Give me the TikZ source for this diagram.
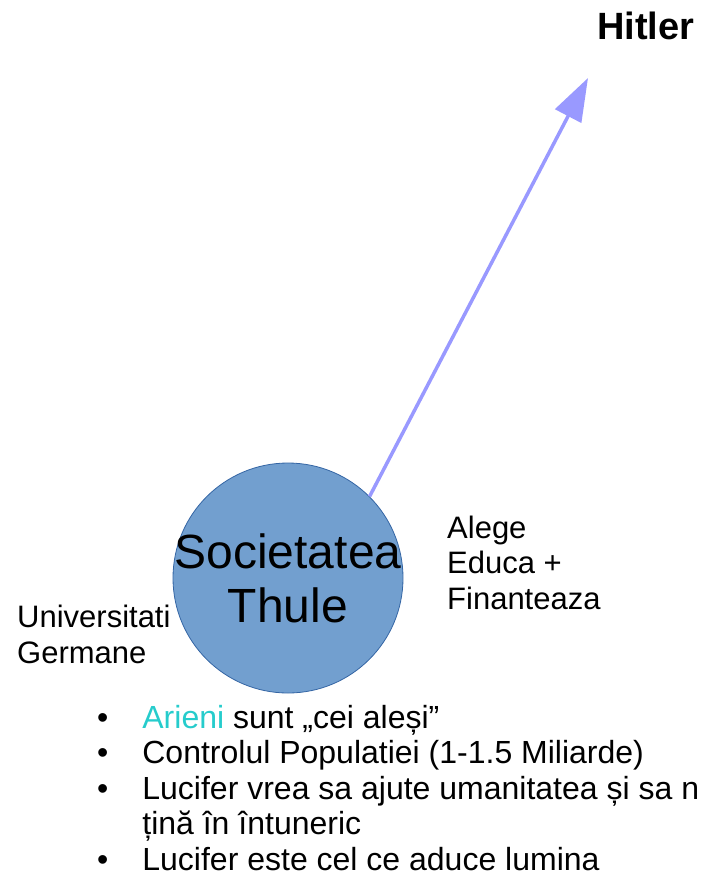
\documentclass[tikz,border=0pt]{standalone}
\usepackage{fontspec}
\setmainfont{Liberation Sans}
\usetikzlibrary{arrows.meta}
\definecolor{circfill}{HTML}{729FCF}
\definecolor{circline}{HTML}{3465A4}
\definecolor{arrowcol}{HTML}{9999FF}
\definecolor{arien}{RGB}{38,204,204}
\tikzset{
  lbl/.style={inner sep=0pt, anchor=base west, align=left,
    font=\fontsize{31}{35.5}\selectfont},
  society/.style={circle, draw=circline, fill=circfill, line width=0.8pt,
    minimum size=230pt, inner sep=0pt},
  societytext/.style={inner sep=0pt, align=center,
    font=\fontsize{48}{54}\selectfont},
  link/.style={draw=arrowcol, line width=3.5pt,
    -{Triangle[length=43pt,width=29pt]}},
}
\begin{document}
\begin{tikzpicture}[x=1pt,y=-1pt]
\useasboundingbox (0,0) rectangle (701,875);
\node[society] (thule) at (288,578) {};
\node[societytext] (thuletext) at (thule.center) {Societatea\\Thule};
\coordinate (tip) at (588,78);
\node[inner sep=0pt, anchor=base west, font=\fontsize{38}{44}\selectfont\bfseries] (hitler) at (597,40) {Hitler};
\draw[link] (thule.45) -- (tip);
\node[lbl] (univ) at (17,663) {Universitati\\Germane};
\node[lbl] (alege) at (447,609) {Alege\\Educa +\\Finanteaza};
\node[inner sep=0pt, anchor=north west, font=\fontsize{32}{35.5}\selectfont] (bullets) at (97,703) {%
\begin{tabular}{@{}l@{\hspace{34pt}}l@{}}
• & \textcolor{arien}{Arieni} sunt „cei aleși”\\
• & Controlul Populatiei (1-1.5 Miliarde)\\
• & Lucifer vrea sa ajute umanitatea și sa n\\
  & țină în întuneric\\
• & Lucifer este cel ce aduce lumina
\end{tabular}};
\end{tikzpicture}
\end{document}
